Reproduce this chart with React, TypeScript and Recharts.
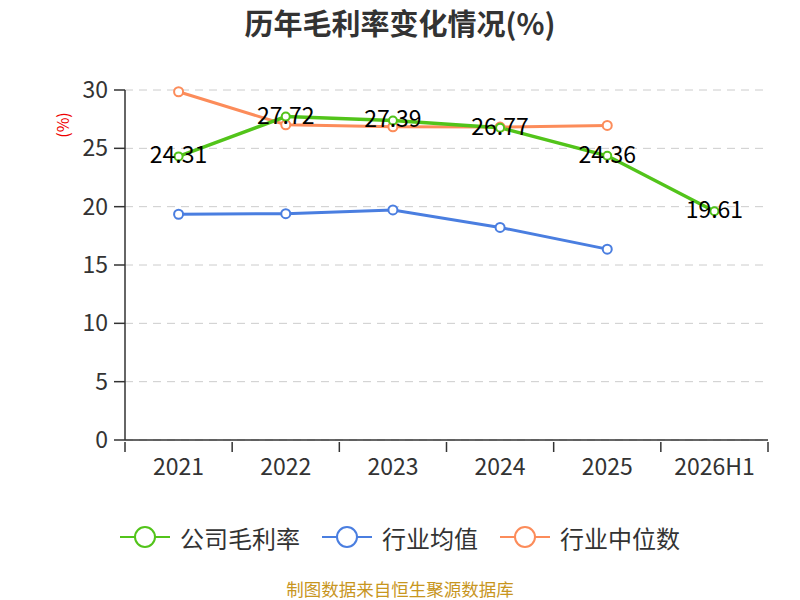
import { CartesianGrid, Line, LineChart, XAxis, YAxis } from "recharts";

const years = ["2021", "2022", "2023", "2024", "2025", "2026H1"];
const companyMargin = [24.31, 27.72, 27.39, 26.77, 24.36, 19.61];
const industryAvg = [19.35, 19.4, 19.72, 18.22, 16.36, null];
const industryMedian = [29.85, 27.02, 26.85, 26.82, 26.96, null];
const yTicks = [0, 5, 10, 15, 20, 25, 30];

const series = [
  { key: "company", name: "公司毛利率", color: "#52c41a" },
  { key: "avg", name: "行业均值", color: "#4a7ee0" },
  { key: "median", name: "行业中位数", color: "#fc8c5a" },
];

const data = years.map((year, i) => ({
  year,
  company: companyMargin[i],
  avg: industryAvg[i],
  median: industryMedian[i],
}));

const FONT = "'Noto Sans CJK SC', 'Noto Sans', sans-serif";
const PLOT_WIDTH = 643;
const band = PLOT_WIDTH / years.length;

const XTick = (props: any) => {
  const { x, y, payload, index } = props;
  const left = x - band / 2;
  return (
    <g>
      <line x1={left} y1={y} x2={left} y2={y + 10} stroke="#333" strokeWidth={1.5} />
      {index === years.length - 1 && (
        <line x1={x + band / 2} y1={y} x2={x + band / 2} y2={y + 10} stroke="#333" strokeWidth={1.5} />
      )}
      <text x={x} y={y + 23} textAnchor="middle" dominantBaseline="central" fontSize={23} fill="#333" fontFamily={FONT}>
        {payload.value}
      </text>
    </g>
  );
};

const ValueLabel = (props: any) => {
  const { x, y, value } = props;
  return (
    <text x={x} y={y - 3} textAnchor="middle" dominantBaseline="central" fontSize={23} fill="#000" fontFamily={FONT}>
      {value}
    </text>
  );
};

const LegendIcon = ({ color }: { color: string }) => (
  <svg width={50} height={26} style={{ marginRight: 10 }}>
    <line x1={0} y1={13} x2={50} y2={13} stroke={color} strokeWidth={2} />
    <circle cx={25} cy={13} r={10} fill="#fff" stroke={color} strokeWidth={2} />
  </svg>
);

export default function App() {
  return (
    <div style={{ position: "absolute", left: 0, top: 0, width: 800, height: 600, background: "#fff", fontFamily: FONT, overflow: "hidden" }}>
      <div style={{ position: "absolute", top: 2, width: 800, textAlign: "center", fontSize: 29, lineHeight: "40px", fontWeight: "bold", color: "#333" }}>
        历年毛利率变化情况(%)
      </div>
      <div
        style={{
          position: "absolute",
          left: 62,
          top: 125,
          transform: "translate(-50%, -50%) rotate(-90deg)",
          color: "#e00",
          fontSize: 16,
        }}
      >
        (%)
      </div>
      <LineChart width={800} height={600} data={data} margin={{ top: 90, right: 32, left: 0, bottom: 120 }}>
        <CartesianGrid vertical={false} stroke="#ccc" strokeDasharray="8 6" />
        <XAxis
          dataKey="year"
          height={40}
          tickLine={false}
          tickSize={0}
          padding={{ left: band / 2, right: band / 2 }}
          axisLine={{ stroke: "#333", strokeWidth: 1.5 }}
          tick={<XTick />}
          interval={0}
        />
        <YAxis
          width={125}
          domain={[0, 30]}
          ticks={yTicks}
          tickSize={11}
          tickMargin={6}
          axisLine={{ stroke: "#333", strokeWidth: 1.5 }}
          tickLine={{ stroke: "#333", strokeWidth: 1.5 }}
          tick={{ fontSize: 23, fill: "#333", fontFamily: FONT }}
        />
        <Line
          dataKey="median"
          stroke={series[2].color}
          strokeWidth={3}
          dot={{ r: 4.5, fill: "#fff", stroke: series[2].color, strokeWidth: 2 }}
          isAnimationActive={false}
        />
        <Line
          dataKey="avg"
          stroke={series[1].color}
          strokeWidth={3}
          dot={{ r: 4.5, fill: "#fff", stroke: series[1].color, strokeWidth: 2 }}
          isAnimationActive={false}
        />
        <Line
          dataKey="company"
          stroke={series[0].color}
          strokeWidth={3.5}
          dot={{ r: 4, fill: "#fff", stroke: series[0].color, strokeWidth: 2 }}
          label={<ValueLabel />}
          isAnimationActive={false}
        />
      </LineChart>
      <div
        style={{
          position: "absolute",
          top: 521,
          width: 800,
          height: 32,
          display: "flex",
          justifyContent: "center",
          alignItems: "center",
          fontSize: 24,
          color: "#333",
        }}
      >
        {series.map((s) => (
          <div key={s.key} style={{ display: "flex", alignItems: "center", margin: "0 11px" }}>
            <LegendIcon color={s.color} />
            <span>{s.name}</span>
          </div>
        ))}
      </div>
      <div style={{ position: "absolute", top: 578, width: 800, textAlign: "center", fontSize: 17.5, lineHeight: "22px", color: "#c8961e" }}>
        制图数据来自恒生聚源数据库
      </div>
    </div>
  );
}
